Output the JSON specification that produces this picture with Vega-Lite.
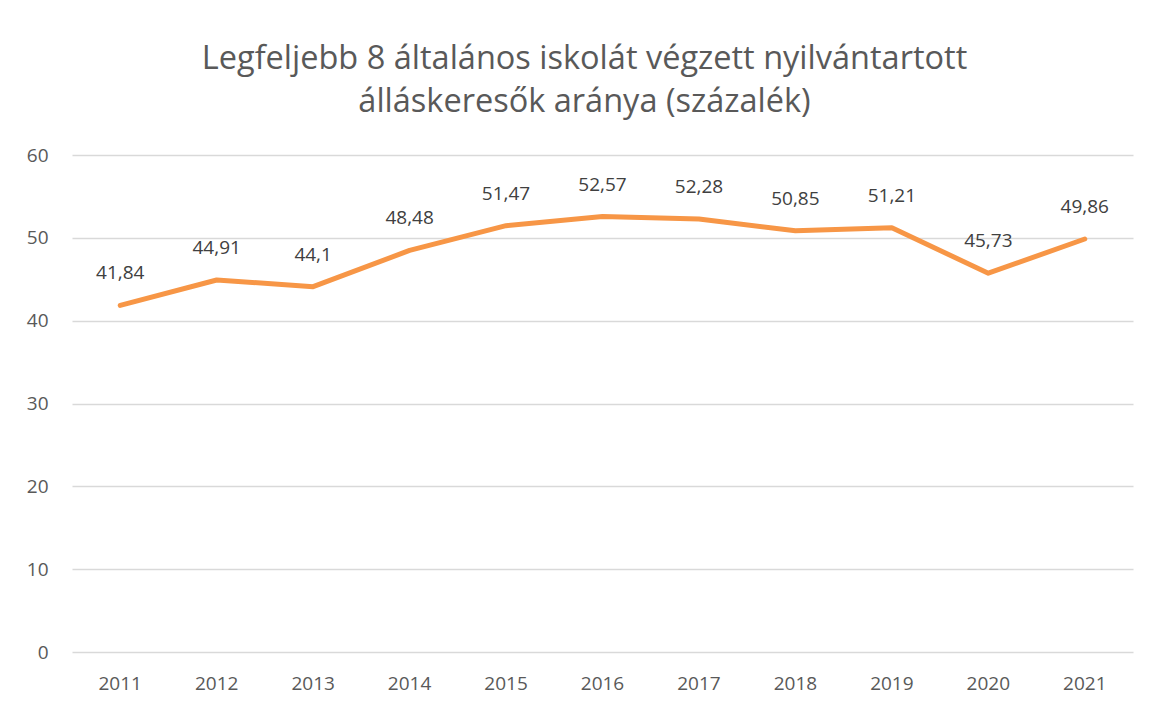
{
  "$schema": "https://vega.github.io/schema/vega-lite/v6.json",
  "width": 1061,
  "height": 497,
  "autosize": {"type": "none"},
  "padding": {"left": 72, "top": 155, "right": 18, "bottom": 52},
  "background": "white",
  "title": {
    "text": ["Legfeljebb 8 általános iskolát végzett nyilvántartott", "álláskeresők aránya (százalék)"],
    "anchor": "middle",
    "font": "Open Sans",
    "fontSize": 32.5,
    "fontWeight": "normal",
    "color": "#595959",
    "lineHeight": 43,
    "offset": 28,
    "dx": -18
  },
  "data": {
    "values": [
      {"ev": "2011", "ertek": 41.84, "cimke": "41,84"},
      {"ev": "2012", "ertek": 44.91, "cimke": "44,91"},
      {"ev": "2013", "ertek": 44.1, "cimke": "44,1"},
      {"ev": "2014", "ertek": 48.48, "cimke": "48,48"},
      {"ev": "2015", "ertek": 51.47, "cimke": "51,47"},
      {"ev": "2016", "ertek": 52.57, "cimke": "52,57"},
      {"ev": "2017", "ertek": 52.28, "cimke": "52,28"},
      {"ev": "2018", "ertek": 50.85, "cimke": "50,85"},
      {"ev": "2019", "ertek": 51.21, "cimke": "51,21"},
      {"ev": "2020", "ertek": 45.73, "cimke": "45,73"},
      {"ev": "2021", "ertek": 49.86, "cimke": "49,86"}
    ]
  },
  "encoding": {
    "x": {
      "field": "ev", "type": "ordinal",
      "scale": {"type": "band", "paddingInner": 0, "paddingOuter": 0},
      "axis": {
        "title": null, "labelAngle": 0, "domain": false, "ticks": false,
        "labelFont": "Open Sans", "labelFontSize": 19, "labelColor": "#595959", "labelPadding": 22
      }
    },
    "y": {
      "field": "ertek", "type": "quantitative",
      "scale": {"domain": [0, 60], "nice": false},
      "axis": {
        "title": null, "values": [0, 10, 20, 30, 40, 50, 60], "domain": false, "ticks": false,
        "grid": true, "gridColor": "#d9d9d9", "gridWidth": 1.5,
        "labelFont": "Open Sans", "labelFontSize": 19, "labelColor": "#595959", "labelPadding": 24
      }
    }
  },
  "layer": [
    {
      "mark": {"type": "line", "color": "#F79646", "strokeWidth": 5, "strokeCap": "round", "strokeJoin": "round"}
    },
    {
      "mark": {"type": "text", "dy": -32, "font": "Open Sans", "fontSize": 19, "color": "#404040"},
      "encoding": {"text": {"field": "cimke"}}
    }
  ],
  "config": {"view": {"stroke": null}}
}
